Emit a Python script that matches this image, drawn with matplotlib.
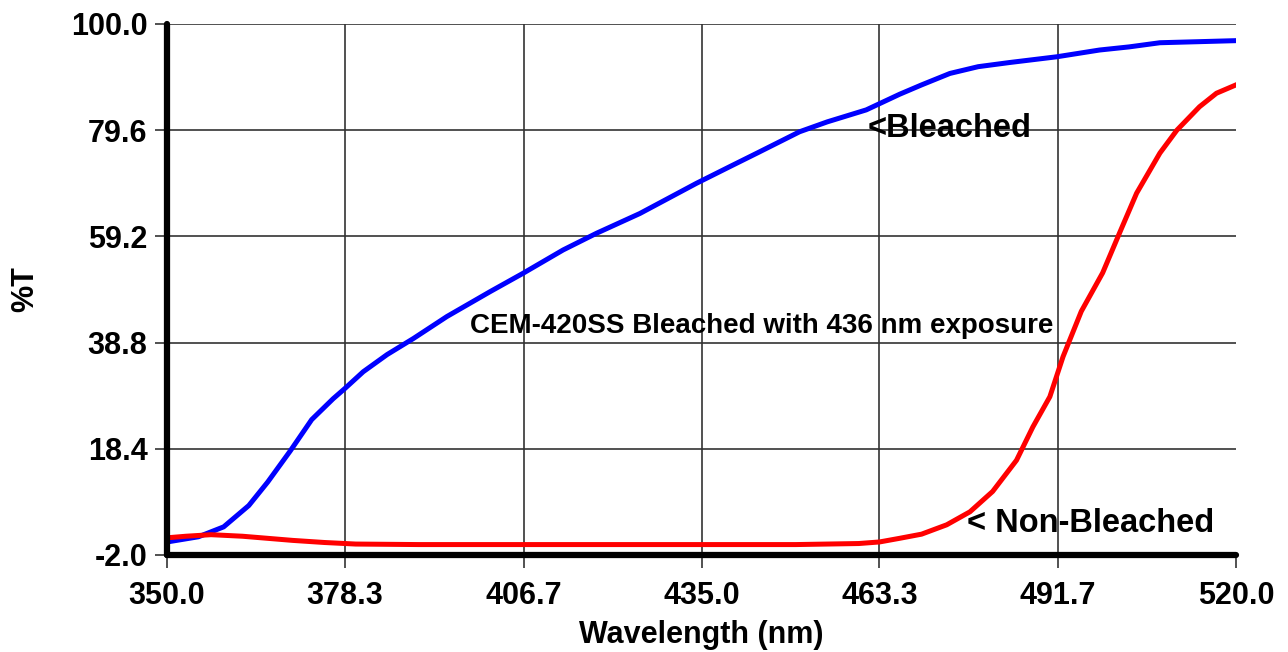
import matplotlib
matplotlib.use("Agg")
import matplotlib.pyplot as plt
import numpy as np

# Bleached curve (blue)
bleached_wl = [350, 355, 359, 363, 366, 369.6, 373, 376.4, 378.3, 381.2, 385, 389.2,
               394.5, 401.4, 406.6, 413, 418.3, 425.2, 434.2, 439.5, 444, 450.6,
               455, 461.2, 466.5, 470, 474.5, 479, 484, 491.5, 498.3, 503, 507.9,
               514, 520]
bleached_t = [0.5, 1.5, 3.4, 7.5, 12.0, 18.0, 24.0, 28.0, 30.0, 33.2, 36.5, 39.6,
              43.8, 48.6, 52.1, 56.6, 59.8, 63.6, 69.4, 72.6, 75.3, 79.3,
              81.2, 83.5, 86.5, 88.3, 90.5, 91.8, 92.6, 93.7, 95.0, 95.6, 96.4,
              96.6, 96.8]

# Non-bleached curve (red)
nonbl_wl = [350, 353, 357, 362, 366, 370, 375, 380, 390, 420, 450, 460, 463.3,
            466.5, 470, 474, 477.7, 481.3, 485.1, 487.7, 490.4, 492.5, 495.4,
            498.8, 501.5, 504.2, 507.9, 510.6, 514.2, 516.9, 520]
nonbl_t = [1.3, 1.6, 1.9, 1.6, 1.2, 0.8, 0.4, 0.1, 0.0, 0.0, 0.0, 0.2, 0.5,
           1.2, 2.0, 3.8, 6.3, 10.2, 16.2, 22.6, 28.4, 36.1, 44.8,
           52.2, 59.9, 67.5, 75.2, 79.6, 84.1, 86.7, 88.3]

x_ticks = [350.0, 378.3, 406.7, 435.0, 463.3, 491.7, 520.0]
y_ticks = [-2.0, 18.4, 38.8, 59.2, 79.6, 100.0]

plt.rcParams['font.family'] = ['Liberation Sans', 'DejaVu Sans']
plt.rcParams['font.weight'] = 'bold'

fig = plt.figure(figsize=(12.88, 6.52), dpi=100)
ax = fig.add_axes([0.1297, 0.1488, 0.8299, 0.8144])

ax.plot(bleached_wl, bleached_t, color='#0000ff', lw=3.6, zorder=3)
ax.plot(nonbl_wl, nonbl_t, color='#ff0000', lw=3.6, zorder=3)

ax.set_xlim(350, 520)
ax.set_ylim(-2, 100)
ax.set_xticks(x_ticks)
ax.set_yticks(y_ticks)
ax.set_xticklabels([f"{v:.1f}" for v in x_ticks])
ax.set_yticklabels([f"{v:.1f}" for v in y_ticks])
ax.tick_params(axis='both', length=9, width=1.2, color='#333333', labelsize=22)
ax.tick_params(axis='x', pad=10)
ax.tick_params(axis='y', pad=5)

ax.grid(True, color='#333333', lw=1.2, zorder=1)
ax.xaxis.get_gridlines()[-1].set_visible(False)

for s in ['top', 'right']:
    ax.spines[s].set_visible(False)
for s in ['left', 'bottom']:
    ax.spines[s].set_linewidth(4.5)
    ax.spines[s].set_color('black')
    ax.spines[s].set_capstyle('round')
    ax.spines[s].set_zorder(4)

ax.set_xlabel('Wavelength (nm)', fontsize=22, fontweight='bold', labelpad=6)
ax.set_ylabel('%T', fontsize=22, fontweight='bold', labelpad=22)

ax.text(461.4, 80.0, '<Bleached', fontsize=23.5, fontweight='bold', va='center', ha='left')
ax.text(477.3, 4.1, '< Non-Bleached', fontsize=23.5, fontweight='bold', va='center', ha='left')
ax.text(398.2, 41.9, 'CEM-420SS Bleached with 436 nm exposure', fontsize=20,
        fontweight='bold', va='center', ha='left')

fig.savefig('out.png', dpi=100)
